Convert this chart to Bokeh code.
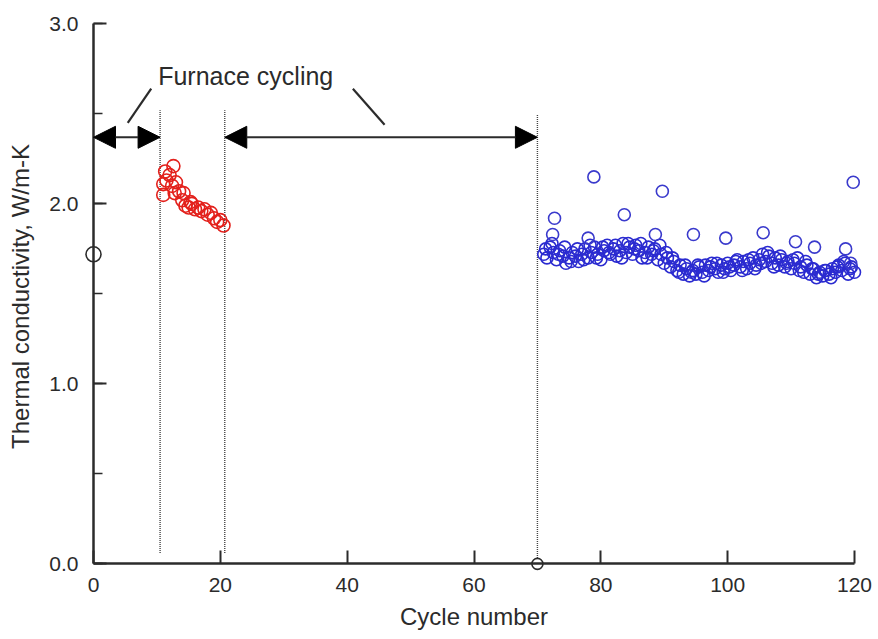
from bokeh.plotting import figure
from bokeh.models import (Arrow, NormalHead, SingleIntervalTicker, Label, Range1d,
                          LinearAxis, PrintfTickFormatter)
from bokeh.embed import file_html
from bokeh.resources import INLINE

# ---------------- data ----------------
initial_x = [0]
initial_y = [1.72]

marker70_x = [70]
marker70_y = [0.0]

furnace_x = [11.0, 11.0, 11.3, 11.5, 12.0, 12.4, 12.6, 12.8, 13.0, 13.5, 14.0, 14.2,
             14.5, 15.0, 15.3, 15.5, 16.0, 16.5, 17.0, 17.5, 18.0, 18.5, 19.0, 19.5,
             20.0, 20.5]
furnace_y = [2.05, 2.11, 2.18, 2.13, 2.16, 2.10, 2.21, 2.06, 2.12, 2.07, 2.02, 2.06,
             1.99, 1.98, 2.01, 2.00, 1.97, 1.98, 1.96, 1.97, 1.94, 1.95, 1.92, 1.90,
             1.91, 1.88]

service_x = [71.0, 71.5, 72.0, 72.5, 73.0, 73.5, 74.0, 74.5, 75.0, 75.5, 76.0, 76.5,
             77.0, 77.5, 78.0, 78.5, 79.0, 79.5, 80.0, 80.5, 81.0, 81.5, 82.0, 82.5,
             83.0, 83.5, 84.0, 84.5, 85.0, 85.5, 86.0, 86.5, 87.0, 87.5, 88.0, 88.5,
             89.0, 89.5, 90.0, 90.5, 91.0, 91.5, 92.0, 92.5, 93.0, 93.5, 94.0, 94.5,
             95.0, 95.5, 96.0, 96.5, 97.0, 97.5, 98.0, 98.5, 99.0, 99.5, 100.0, 100.5,
             101.0, 101.5, 102.0, 102.5, 103.0, 103.5, 104.0, 104.5, 105.0, 105.5,
             106.0, 106.5, 107.0, 107.5, 108.0, 108.5, 109.0, 109.5, 110.0, 110.5,
             111.0, 111.5, 112.0, 112.5, 113.0, 113.5, 114.0, 114.5, 115.0, 115.5,
             116.0, 116.5, 117.0, 117.5, 118.0, 118.5, 119.0, 119.5, 120.0]
service_y = [1.72, 1.70, 1.76, 1.73, 1.69, 1.74, 1.71, 1.67, 1.70, 1.73, 1.71, 1.68,
             1.72, 1.75, 1.70, 1.73, 1.76, 1.72, 1.69, 1.74, 1.77, 1.72, 1.75, 1.71,
             1.74, 1.78, 1.73, 1.76, 1.72, 1.77, 1.74, 1.70, 1.73, 1.76, 1.72, 1.75,
             1.69, 1.72, 1.67, 1.70, 1.65, 1.68, 1.63, 1.66, 1.61, 1.64, 1.60, 1.63,
             1.61, 1.65, 1.62, 1.66, 1.63, 1.67, 1.64, 1.62, 1.66, 1.64, 1.67, 1.63,
             1.66, 1.69, 1.65, 1.68, 1.64, 1.67, 1.70, 1.66, 1.69, 1.72, 1.68, 1.71,
             1.67, 1.70, 1.66, 1.69, 1.65, 1.68, 1.64, 1.67, 1.70, 1.65, 1.62, 1.66,
             1.61, 1.64, 1.59, 1.62, 1.60, 1.63, 1.61, 1.64, 1.62, 1.66, 1.63, 1.67,
             1.61, 1.65, 1.62]

# second measurement in each cycle (denser band)
service2_x = [71.3, 72.3, 73.3, 74.3, 75.3, 76.3, 77.3, 78.3, 79.3, 80.3, 81.3, 82.3,
              83.3, 84.3, 85.3, 86.3, 87.3, 88.3, 89.3, 90.3, 91.3, 92.3, 93.3, 94.3,
              95.3, 96.3, 97.3, 98.3, 99.3, 100.3, 101.3, 102.3, 103.3, 104.3, 105.3,
              106.3, 107.3, 108.3, 109.3, 110.3, 111.3, 112.3, 113.3, 114.3, 115.3,
              116.3, 117.3, 118.3, 119.3]
service2_y = [1.75, 1.78, 1.72, 1.76, 1.68, 1.75, 1.69, 1.77, 1.70, 1.76, 1.73, 1.77,
              1.70, 1.78, 1.75, 1.78, 1.70, 1.74, 1.77, 1.73, 1.70, 1.62, 1.66, 1.62,
              1.66, 1.60, 1.65, 1.67, 1.62, 1.65, 1.68, 1.63, 1.69, 1.64, 1.67, 1.73,
              1.65, 1.71, 1.67, 1.69, 1.63, 1.68, 1.64, 1.61, 1.63, 1.59, 1.65, 1.68,
              1.64]

outlier_x = [72.4, 72.7, 78.0, 78.9, 83.7, 88.6, 89.7, 94.6, 99.7, 105.6, 110.7,
             113.7, 118.6, 119.4, 119.8]
outlier_y = [1.83, 1.92, 1.81, 2.15, 1.94, 1.83, 2.07, 1.83, 1.81, 1.84, 1.79,
             1.76, 1.75, 1.67, 2.12]

boundary_x = [10.5, 20.7, 70.0]
boundary_bottom = [0.06, 0.06, 0.0]
boundary_top = [2.52, 2.52, 2.50]

arrow_y = 2.37
annotation_text = "Furnace cycling"
x_tick_interval = 20
y_tick_interval = 1.0

FONT = "Liberation Sans"
INK = "#2b2b2b"

p = figure(width=878, height=639, output_backend="svg", toolbar_location=None,
           x_range=Range1d(-2.05, 122.05), y_range=Range1d(-0.059, 3.03),
           x_axis_type=None, y_axis_type=None,
           min_border_left=80, min_border_right=11, min_border_top=18,
           min_border_bottom=65)
p.outline_line_color = None
p.grid.visible = False
p.background_fill_color = "white"
p.border_fill_color = "white"


def xticker():
    return SingleIntervalTicker(interval=x_tick_interval, num_minor_ticks=0)


def yticker():
    return SingleIntervalTicker(interval=y_tick_interval, num_minor_ticks=2)


# axis lines and inward ticks, drawn at data 0
def line_axis(ticker, minor):
    ax = LinearAxis(ticker=ticker, fixed_location=0,
                    axis_line_width=2.5, axis_line_color=INK,
                    major_tick_line_color=INK, major_tick_line_width=2,
                    major_tick_in=13, major_tick_out=0,
                    minor_tick_in=9, minor_tick_out=0, minor_tick_line_width=1.5,
                    minor_tick_line_color=INK if minor else None,
                    major_label_text_color=None, major_label_text_font_size="1px")
    return ax


xline = line_axis(xticker(), False)
xline.bounds = (0, 120)
yline = line_axis(yticker(), True)
yline.bounds = (0, 3.0)

# label axes in the side panels
def label_axis(ticker, label, standoff, label_standoff):
    ax = LinearAxis(ticker=ticker, axis_label=label,
                    axis_line_color=None, major_tick_line_color=None,
                    minor_tick_line_color=None, major_tick_in=0, major_tick_out=0,
                    minor_tick_in=0, minor_tick_out=0,
                    major_label_text_font=FONT, major_label_text_font_size="21px",
                    major_label_text_color=INK, major_label_standoff=standoff,
                    axis_label_text_font=FONT, axis_label_text_font_size="24px",
                    axis_label_text_font_style="normal", axis_label_text_color=INK,
                    axis_label_standoff=label_standoff)
    return ax


xlab = label_axis(xticker(), "Cycle number", 3, 8)
xlab.bounds = (0, 120)
ylab = label_axis(yticker(), "Thermal conductivity, W/m-K", 2, 12)
ylab.bounds = (0, 3.0)
ylab.formatter = PrintfTickFormatter(format="%.1f")

p.add_layout(xlab, "below")
p.add_layout(ylab, "left")
p.add_layout(xline, "below")
p.add_layout(yline, "left")

# boundaries
p.segment(x0=boundary_x, y0=boundary_bottom, x1=boundary_x, y1=boundary_top,
          line_color="#444444", line_width=1.4, line_dash="1 1")

# arrows
head = dict(size=22, fill_color="black", line_color="black")
p.add_layout(Arrow(x_start=0, y_start=arrow_y, x_end=boundary_x[0], y_end=arrow_y,
                   start=NormalHead(**head), end=NormalHead(**head),
                   line_color=INK, line_width=2))
p.add_layout(Arrow(x_start=boundary_x[1], y_start=arrow_y, x_end=boundary_x[2], y_end=arrow_y,
                   start=NormalHead(**head), end=NormalHead(**head),
                   line_color=INK, line_width=2))

# leader lines
p.segment(x0=[9.1, 40.9], y0=[2.64, 2.64], x1=[5.4, 45.9], y1=[2.45, 2.44],
          line_color=INK, line_width=2.2)

p.add_layout(Label(x=24.0, y=2.71, text=annotation_text, text_align="center",
                   text_baseline="middle", text_font=FONT, text_font_size="25px",
                   text_color=INK))

# data
p.scatter(furnace_x, furnace_y, marker="circle", size=13, fill_color=None,
          line_color="#e3211c", line_width=1.6)
p.scatter(service_x, service_y, marker="circle", size=12, fill_color=None,
          line_color="#2b2bd0", line_width=1.6)
p.scatter(service2_x, service2_y, marker="circle", size=12, fill_color=None,
          line_color="#2b2bd0", line_width=1.6)
p.scatter(outlier_x, outlier_y, marker="circle", size=12, fill_color=None,
          line_color="#3a3acc", line_width=1.6)
p.scatter(initial_x, initial_y, marker="circle", size=15, fill_color="white",
          line_color=INK, line_width=1.6)
p.scatter(marker70_x, marker70_y, marker="circle", size=11, fill_color="white",
          line_color=INK, line_width=1.6)

open("out.html", "w").write(file_html(p, INLINE))
